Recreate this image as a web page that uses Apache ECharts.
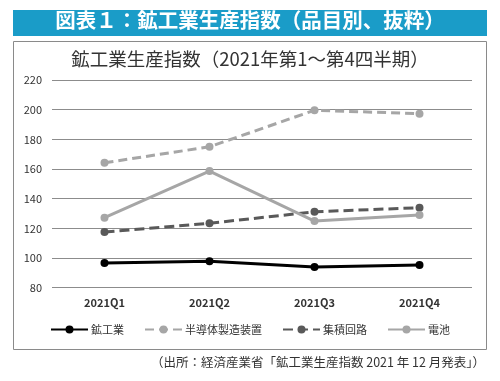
<!DOCTYPE html>
<html><head><meta charset="utf-8">
<script src="https://cdn.jsdelivr.net/npm/echarts@6/dist/echarts.min.js"></script>
<style>html,body{margin:0;padding:0;background:#fff}#c{width:500px;height:381px}</style>
</head><body><div id="c"></div>
<script>
const categories = ['2021Q1','2021Q2','2021Q3','2021Q4'];
const seriesNames = ['鉱工業','半導体製造装置','集積回路','電池'];
const mining = [96.6, 97.8, 94.0, 95.3];
const semiEquip = [164.2, 175.0, 199.6, 197.3];
const ic = [117.5, 123.4, 131.2, 133.9];
const battery = [127.2, 158.6, 124.9, 129.0];
const yTicks = [80, 100, 120, 140, 160, 180, 200, 220];

const font = '"Noto Sans CJK JP", "Noto Sans", sans-serif';
const chart = echarts.init(document.getElementById('c'), null, {renderer:'canvas'});
function mk(name, data, color, type){
  return {name, type:'line', data, symbol:'circle', symbolSize:8,
    lineStyle:{color, width:3, type}, itemStyle:{color}, z: 3};
}
chart.setOption({
  animation:false,
  textStyle:{fontFamily:font},
  graphic:[
    {type:'rect', shape:{x:13,y:10,width:474,height:26}, style:{fill:'#1a9cc8'}},
    {type:'text', left:'center', top:10, style:{text:'図表１：鉱工業生産指数（品目別、抜粋）', fill:'#fff', font:'bold 20.5px '+font}},
    {type:'rect', shape:{x:13.5,y:41.5,width:473,height:308}, style:{fill:'none', stroke:'#8a8a8a', lineWidth:1}, z:-1},
    {type:'text', left:'center', top:50, style:{text:'鉱工業生産指数（2021年第1～第4四半期）', fill:'#333', font:'18.5px '+font}},
    {type:'text', right:15, top:356, style:{text:'（出所：経済産業省「鉱工業生産指数 2021 年 12 月発表」）', fill:'#333', font:'12.5px '+font}}
  ],
  grid:{left:52, right:28, top:80, bottom:93.3},
  xAxis:{type:'category', data:categories, boundaryGap:true,
    axisLine:{show:false}, axisTick:{show:false},
    axisLabel:{color:'#333', fontSize:11, fontWeight:'bold', margin:10}},
  yAxis:{type:'value', min:yTicks[0], max:yTicks[yTicks.length-1], interval:20,
    axisLine:{show:false}, axisTick:{show:false},
    axisLabel:{color:'#333', fontSize:11, margin:10},
    splitLine:{lineStyle:{color:'#8c8c8c', width:1}}},
  legend:{bottom:41, left:'center', itemWidth:37, itemHeight:10, itemGap:20,
    textStyle:{color:'#333', fontSize:11, padding:[0,0,0,-2]}, data:seriesNames},
  series:[
    mk(seriesNames[0], mining, '#000000', 'solid'),
    mk(seriesNames[1], semiEquip, '#a6a6a6', [9,5]),
    mk(seriesNames[2], ic, '#595959', [10,5]),
    mk(seriesNames[3], battery, '#a6a6a6', 'solid')
  ]
});
</script></body></html>
